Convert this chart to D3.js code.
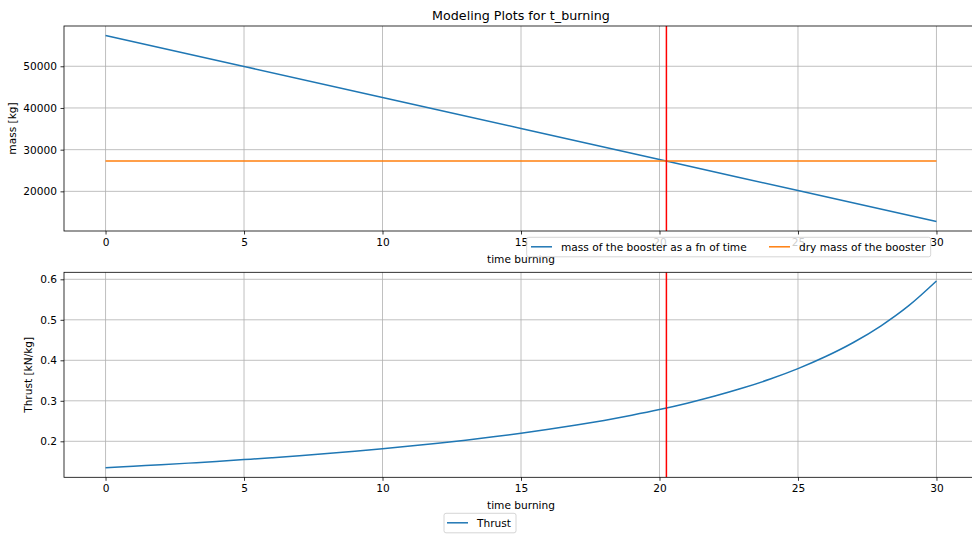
<!DOCTYPE html>
<html><head><meta charset="utf-8">
<script src="https://cdn.jsdelivr.net/npm/d3@7"></script>
<style>
body{margin:0;background:#fff;}
svg{font-family:"DejaVu Sans",sans-serif;display:block;}
</style></head>
<body>
<script>
// ---- data ----
const title = "Modeling Plots for t_burning";
const xTicks = [0,5,10,15,20,25,30];
const massTicks = [20000,30000,40000,50000];
const thrustTicks = [0.2,0.3,0.4,0.5,0.6];
const massTime = [0,5,10,15,20,25,30];
const massValues = [57400,49960,42520,35080,27630,20190,12750];
const dryTime = [0,30];
const dryValues = [27250,27250];
const thrustTime = [0,1,2,3,4,5,6,7,8,9,10,11,12,13,14,15,16,17,18,19,20,21,22,23,24,25,26,27,28,29,30];
const thrustValues = [0.1348,0.1384,0.1421,0.1461,0.1503,0.1548,0.1595,0.1645,0.1699,0.1756,0.1817,0.1882,0.1952,0.2028,0.2110,0.2199,0.2295,0.2401,0.2516,0.2644,0.2784,0.2941,0.3117,0.3314,0.3538,0.3795,0.4093,0.4440,0.4853,0.5349,0.5959];
const tBurn = 20.25;
const massLabels = ["mass of the booster as a fn of time","dry mass of the booster"];
const thrustLabels = ["Thrust"];

const W=972,H=536;
const svg=d3.select("body").append("svg").attr("width",W).attr("height",H);
const C0="#1f77b4",C1="#ff7f0e";
const L=64,R=978;
const FS=10.6, TFS=12.7;

function panel(top,bottom,yDomain,yTicks,fmt,ylabel,ylabelX,series,legend,id){
  const x=d3.scaleLinear().domain([-1.5,31.5]).range([L,R]);
  const y=d3.scaleLinear().domain(yDomain).range([bottom,top]);
  const g=svg.append("g");
  g.append("clipPath").attr("id",id).append("rect").attr("x",L).attr("y",top).attr("width",R-L).attr("height",bottom-top);
  // grid
  g.append("g").selectAll("line").data(xTicks).join("line")
    .attr("x1",d=>x(d)).attr("x2",d=>x(d)).attr("y1",top).attr("y2",bottom)
    .attr("stroke","#b0b0b0").attr("stroke-width",0.8);
  g.append("g").selectAll("line").data(yTicks).join("line")
    .attr("x1",L).attr("x2",R).attr("y1",d=>y(d)).attr("y2",d=>y(d))
    .attr("stroke","#b0b0b0").attr("stroke-width",0.8);
  const dg=g.append("g").attr("clip-path",`url(#${id})`);
  series.forEach(s=>{
    const line=d3.line().curve(d3.curveMonotoneX).x((d,i)=>x(s.t[i])).y(d=>y(d));
    dg.append("path").attr("d",line(s.v)).attr("fill","none").attr("stroke",s.c).attr("stroke-width",1.5);
  });
  dg.append("line").attr("x1",x(tBurn)).attr("x2",x(tBurn)).attr("y1",top).attr("y2",bottom)
    .attr("stroke","red").attr("stroke-width",1.5);
  // axes
  const xa=g.append("g").attr("transform",`translate(0,${bottom})`)
    .call(d3.axisBottom(x).tickValues(xTicks).tickSize(3.5).tickPadding(3.5).tickFormat(d3.format("d")));
  const ya=g.append("g").attr("transform",`translate(${L},0)`)
    .call(d3.axisLeft(y).tickValues(yTicks).tickSize(3.5).tickPadding(3.5).tickFormat(fmt));
  [xa,ya].forEach(a=>{a.select(".domain").remove();
    a.selectAll("line").attr("stroke","#000").attr("stroke-width",0.8);
    a.selectAll("text").attr("font-size",FS).attr("fill","#000").attr("font-family","DejaVu Sans");});
  g.append("rect").attr("x",L).attr("y",top).attr("width",R-L).attr("height",bottom-top)
    .attr("fill","none").attr("stroke","#000").attr("stroke-width",0.8);
  g.append("text").attr("x",(L+R)/2).attr("y",bottom+31.5).attr("text-anchor","middle")
    .attr("font-size",FS).text("time burning");
  g.append("text").attr("transform",`translate(${ylabelX},${(top+bottom)/2}) rotate(-90)`)
    .attr("text-anchor","middle").attr("font-size",FS).text(ylabel);
  // legend
  const lg=svg.append("g");
  lg.append("rect").attr("x",legend.x).attr("y",legend.y).attr("width",legend.w).attr("height",19.5)
    .attr("rx",2).attr("fill","rgba(255,255,255,0.8)").attr("stroke","#cccccc").attr("stroke-width",0.8);
  legend.items.forEach(it=>{
    lg.append("line").attr("x1",it.x).attr("x2",it.x+21).attr("y1",legend.y+9.5).attr("y2",legend.y+9.5)
      .attr("stroke",it.c).attr("stroke-width",1.5);
    lg.append("text").attr("x",it.x+30).attr("y",legend.y+13.5).attr("font-size",FS).attr("fill","#000").text(it.label);
  });
}

svg.append("text").attr("x",(L+R)/2).attr("y",20).attr("text-anchor","middle").attr("font-size",TFS).text(title);

panel(26,231,[10490,59660],massTicks,d3.format("d"),"mass [kg]",16,
  [{t:massTime,v:massValues,c:C0},{t:dryTime,v:dryValues,c:C1}],
  {x:526.7,y:237.3,w:404,items:[{x:531,c:C0,label:massLabels[0]},{x:769,c:C1,label:massLabels[1]}]},"c1");
panel(272.3,477.3,[0.1111,0.6173],thrustTicks,d3.format(".1f"),"Thrust [kN/kg]",32,
  [{t:thrustTime,v:thrustValues,c:C0}],
  {x:444,y:513.3,w:72,items:[{x:447,c:C0,label:thrustLabels[0]}]},"c2");
</script>
</body></html>
